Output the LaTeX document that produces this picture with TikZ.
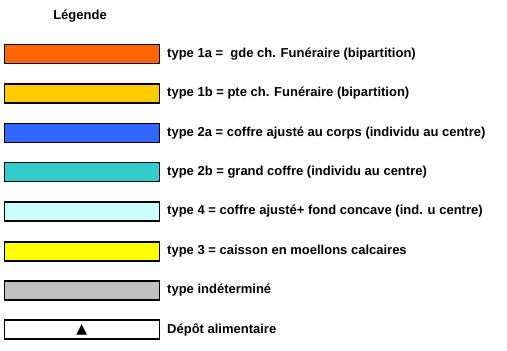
\documentclass[tikz,border=0pt]{standalone}
\usepackage{fontspec}
\setmainfont{Liberation Sans}
\newfontfamily\symfont{DejaVu Sans}
\definecolor{cA}{HTML}{FF6600}
\definecolor{cB}{HTML}{FFCC00}
\definecolor{cC}{HTML}{3366FF}
\definecolor{cD}{HTML}{33CCCC}
\definecolor{cE}{HTML}{CCFFFF}
\definecolor{cF}{HTML}{FFFF00}
\definecolor{cG}{HTML}{C0C0C0}
\begin{document}
\begin{tikzpicture}[x=1pt,y=-1pt,
  swatch/.style={draw=black,line width=1.6pt,minimum width=155pt,minimum height=19pt,inner sep=0pt,anchor=west},
  lbl/.style={anchor=west,inner sep=0pt,font=\bfseries\fontsize{13}{15}\selectfont}]
\useasboundingbox (0,0) rectangle (507,351);
\node[font=\bfseries\fontsize{13}{15}\selectfont] (title) at (80,16) {Légende};
\node[swatch,fill=cA] (s1) at (3.5,54) {};
\node[swatch,fill=cB] (s2) at (3.5,93.5) {};
\node[swatch,fill=cC] (s3) at (3.5,133) {};
\node[swatch,fill=cD] (s4) at (3.5,172) {};
\node[swatch,fill=cE] (s5) at (3.5,211.5) {};
\node[swatch,fill=cF] (s6) at (3.5,251.5) {};
\node[swatch,fill=cG] (s7) at (3.5,290.5) {};
\node[swatch,fill=white] (s8) at (3.5,329.5) {};
\node[font=\symfont\fontsize{14}{15}\selectfont,inner sep=0pt] (tri) at (s8.center) {▲};
\node[lbl] (l1) at (167,54) {type 1a =\ \ gde ch. Funéraire (bipartition)};
\node[lbl] (l2) at (167,93.5) {type 1b = pte ch. Funéraire (bipartition)};
\node[lbl] (l3) at (167,133) {type 2a = coffre ajusté au corps (individu au centre)};
\node[lbl] (l4) at (167,172) {type 2b = grand coffre (individu au centre)};
\node[lbl] (l5) at (167,211.5) {type 4 = coffre ajusté+ fond concave (ind. u centre)};
\node[lbl] (l6) at (167,251.5) {type 3 = caisson en moellons calcaires};
\node[lbl] (l7) at (167,290.5) {type indéterminé};
\node[lbl] (l8) at (167,329.5) {Dépôt alimentaire};
\end{tikzpicture}
\end{document}
